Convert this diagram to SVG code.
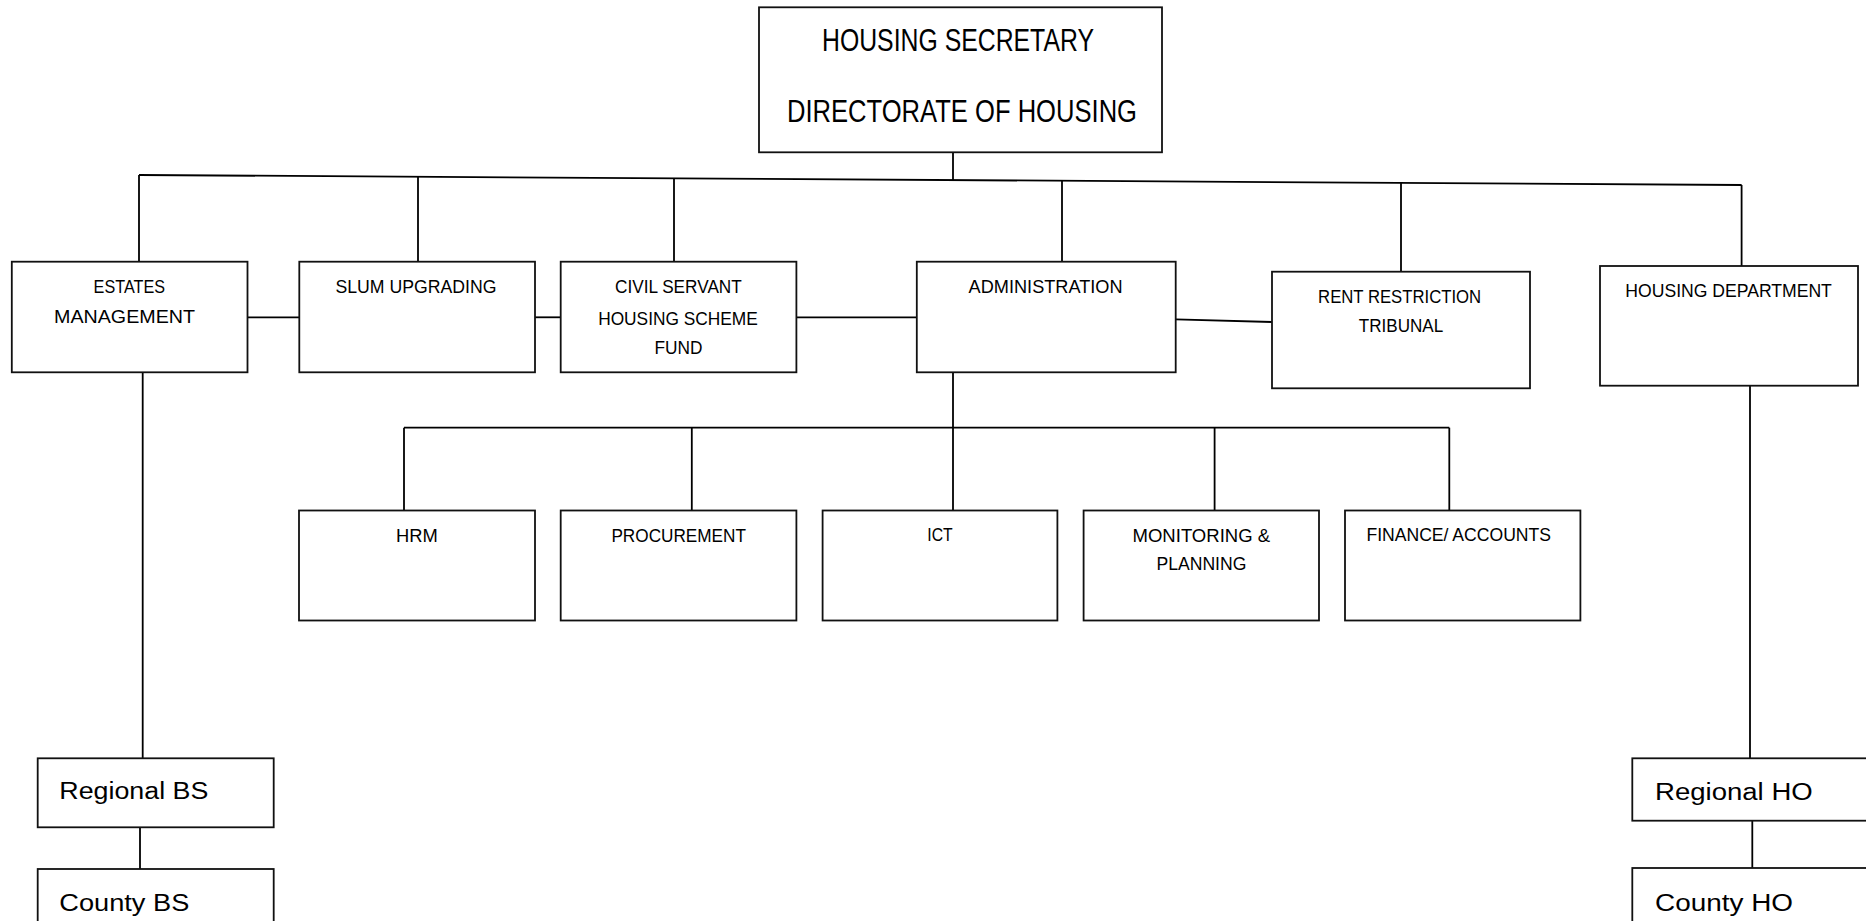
<svg xmlns="http://www.w3.org/2000/svg" width="1866" height="921" viewBox="0 0 1866 921">
<style>
.box{fill:#fff;stroke:#111;stroke-width:1.8}
.ln{stroke:#000;stroke-width:1.8;fill:none}
text{font-family:"Liberation Sans Narrow","Liberation Sans",Arial,sans-serif;fill:#000}
.s{font-size:18.6px;text-anchor:middle}
.t{font-size:31px;text-anchor:middle}
.b{font-size:24.7px}
</style>
<rect width="1866" height="921" fill="#fff"/>
<g id="connectors">
<line class="ln" x1="139" y1="175" x2="1741.6" y2="185"/>
<line class="ln" x1="953" y1="152" x2="953" y2="180"/>
<line class="ln" x1="139" y1="175" x2="139" y2="262"/>
<line class="ln" x1="418" y1="177" x2="418" y2="261"/>
<line class="ln" x1="674" y1="178" x2="674" y2="261"/>
<line class="ln" x1="1062" y1="181" x2="1062" y2="262"/>
<line class="ln" x1="1401" y1="183" x2="1401" y2="271"/>
<line class="ln" x1="1741.6" y1="185" x2="1741.6" y2="266"/>
<line class="ln" x1="247.5" y1="317.3" x2="299.3" y2="317.3"/>
<line class="ln" x1="535" y1="317.3" x2="560.7" y2="317.3"/>
<line class="ln" x1="796.4" y1="317.3" x2="916.8" y2="317.3"/>
<line class="ln" x1="1175.7" y1="319.3" x2="1272" y2="322"/>
<line class="ln" x1="953" y1="372.3" x2="953" y2="510.5"/>
<line class="ln" x1="404" y1="427.7" x2="1449.3" y2="427.7"/>
<line class="ln" x1="404" y1="427.7" x2="404" y2="510.5"/>
<line class="ln" x1="691.8" y1="427.7" x2="691.8" y2="510.5"/>
<line class="ln" x1="1214.6" y1="427.7" x2="1214.6" y2="510.5"/>
<line class="ln" x1="1449.3" y1="427.7" x2="1449.3" y2="510.5"/>
<line class="ln" x1="142.7" y1="372.3" x2="142.7" y2="758.3"/>
<line class="ln" x1="140" y1="827.3" x2="140" y2="869"/>
<line class="ln" x1="1750" y1="385.7" x2="1750" y2="758.3"/>
<line class="ln" x1="1752.3" y1="820.7" x2="1752.3" y2="868"/>
</g>
<g id="housing-secretary">
<rect class="box" x="759" y="7.3" width="403" height="145"/>
<text class="t" x="958" y="51" textLength="272" lengthAdjust="spacingAndGlyphs">HOUSING SECRETARY</text>
<text class="t" x="962" y="122" textLength="350" lengthAdjust="spacingAndGlyphs">DIRECTORATE OF HOUSING</text>
</g>
<g id="estates-management">
<rect class="box" x="11.8" y="261.7" width="235.7" height="110.6"/>
<text class="s" x="129.3" y="293" textLength="71.4" lengthAdjust="spacingAndGlyphs">ESTATES</text>
<text class="s" x="124.5" y="323" textLength="141" lengthAdjust="spacingAndGlyphs">MANAGEMENT</text>
</g>
<g id="slum-upgrading">
<rect class="box" x="299.3" y="261.7" width="235.7" height="110.6"/>
<text class="s" x="416" y="293" textLength="161" lengthAdjust="spacingAndGlyphs">SLUM UPGRADING</text>
</g>
<g id="civil-servant">
<rect class="box" x="560.7" y="261.7" width="235.7" height="110.6"/>
<text class="s" x="678.4" y="293.3" textLength="126.8" lengthAdjust="spacingAndGlyphs">CIVIL SERVANT</text>
<text class="s" x="678" y="324.5" textLength="159.7" lengthAdjust="spacingAndGlyphs">HOUSING SCHEME</text>
<text class="s" x="678.4" y="354" textLength="48" lengthAdjust="spacingAndGlyphs">FUND</text>
</g>
<g id="administration">
<rect class="box" x="916.8" y="261.7" width="258.9" height="110.6"/>
<text class="s" x="1045.6" y="293.3" textLength="154" lengthAdjust="spacingAndGlyphs">ADMINISTRATION</text>
</g>
<g id="rent-restriction">
<rect class="box" x="1272" y="271.7" width="258" height="116.6"/>
<text class="s" x="1399.6" y="303.3" textLength="163" lengthAdjust="spacingAndGlyphs">RENT RESTRICTION</text>
<text class="s" x="1401" y="332" textLength="84.4" lengthAdjust="spacingAndGlyphs">TRIBUNAL</text>
</g>
<g id="housing-department">
<rect class="box" x="1600" y="266" width="258" height="119.7"/>
<text class="s" x="1728.6" y="296.7" textLength="206.5" lengthAdjust="spacingAndGlyphs">HOUSING DEPARTMENT</text>
</g>
<g id="hrm">
<rect class="box" x="299" y="510.5" width="236" height="110"/>
<text class="s" x="417" y="541.7" textLength="41.8" lengthAdjust="spacingAndGlyphs">HRM</text>
</g>
<g id="procurement">
<rect class="box" x="560.7" y="510.5" width="235.7" height="110"/>
<text class="s" x="678.7" y="541.7" textLength="134.6" lengthAdjust="spacingAndGlyphs">PROCUREMENT</text>
</g>
<g id="ict">
<rect class="box" x="822.6" y="510.5" width="234.8" height="110"/>
<text class="s" x="940" y="541.3" textLength="25.4" lengthAdjust="spacingAndGlyphs">ICT</text>
</g>
<g id="monitoring-planning">
<rect class="box" x="1083.6" y="510.5" width="235.4" height="110"/>
<text class="s" x="1201.3" y="542.3" textLength="137.5" lengthAdjust="spacingAndGlyphs">MONITORING &amp;</text>
<text class="s" x="1201.4" y="570" textLength="90" lengthAdjust="spacingAndGlyphs">PLANNING</text>
</g>
<g id="finance-accounts">
<rect class="box" x="1345" y="510.5" width="235.4" height="110"/>
<text class="s" x="1458.7" y="541.3" textLength="184.6" lengthAdjust="spacingAndGlyphs">FINANCE/ ACCOUNTS</text>
</g>
<g id="regional-bs">
<rect class="box" x="37.7" y="758.3" width="236" height="69"/>
<text class="b" x="59.3" y="799.3" textLength="149" lengthAdjust="spacingAndGlyphs">Regional BS</text>
</g>
<g id="county-bs">
<rect class="box" x="37.7" y="869" width="236" height="80"/>
<text class="b" x="59.3" y="911" textLength="130" lengthAdjust="spacingAndGlyphs">County BS</text>
</g>
<g id="regional-ho">
<rect class="box" x="1632.3" y="758.3" width="260" height="62.4"/>
<text class="b" x="1655" y="799.5" textLength="157.7" lengthAdjust="spacingAndGlyphs">Regional HO</text>
</g>
<g id="county-ho">
<rect class="box" x="1632.3" y="868" width="260" height="80"/>
<text class="b" x="1655" y="911" textLength="138" lengthAdjust="spacingAndGlyphs">County HO</text>
</g>
</svg>
